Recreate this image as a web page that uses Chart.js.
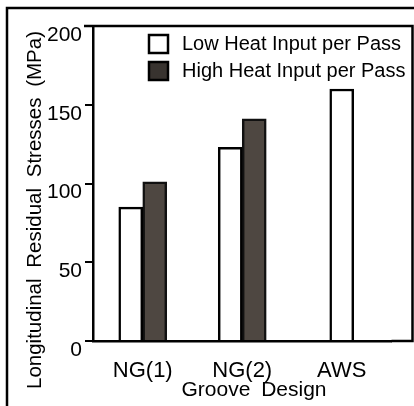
<!DOCTYPE html>
<html>
<head>
<meta charset="utf-8">
<script src="https://cdn.jsdelivr.net/npm/chart.js@4.4.0/dist/chart.umd.min.js"></script>
<style>
html, body { margin: 0; padding: 0; background: #fff; }
#wrap { width: 414px; height: 406px; }
</style>
</head>
<body>
<div id="wrap"><canvas id="chart" width="414" height="406"></canvas></div>
<script>
// data
var categories = ['NG(1)', 'NG(2)', 'AWS'];
var lowHeat = [85, 123, 160];
var highHeat = [101, 141, null];
var seriesNames = ['Low Heat Input per Pass', 'High Heat Input per Pass'];
var yTicks = [0, 50, 100, 150, 200];
var xTitle = 'Groove Design';
var yTitle = 'Longitudinal Residual Stresses (MPa)';

var ink = '#000';
var darkFill = '#4e4741';
var fontFamily = '"Liberation Sans", Arial, sans-serif';

//frame lines, legend and axis titles
var decorPlugin = {
	id: 'decor',
	afterDraw: function (chart) {
		var ctx = chart.ctx;
		var a = chart.chartArea;
		var w = chart.width, h = chart.height;
		ctx.save();
		ctx.strokeStyle = ink;
		ctx.lineWidth = 2.5;

		// outer frame
		ctx.beginPath();
		ctx.moveTo(7, h);
		ctx.lineTo(7, 8);
		ctx.lineTo(w, 8);
		ctx.stroke();

		// inner box
		ctx.beginPath();
		ctx.moveTo(a.left - 9, a.top);
		ctx.lineTo(w - 1.5, a.top);
		ctx.lineTo(w - 1.5, a.bottom);
		ctx.lineTo(a.right, a.bottom);
		ctx.stroke();

		// legend
		var ds = chart.data.datasets;
		ctx.font = '20px ' + fontFamily;
		ctx.textBaseline = 'middle';
		ctx.textAlign = 'left';
		for (var i = 0; i < ds.length; i++) {
			var by = 35 + i * 27;
			ctx.fillStyle = i == 0 ? '#fff' : '#38332f';
			ctx.fillRect(149, by, 19, 18);
			ctx.strokeRect(149, by, 19, 18);
			ctx.fillStyle = ink;
			ctx.fillText(ds[i].label, 182, by + 9);
		}

		// x title
		ctx.font = '21px ' + fontFamily;
		if ('wordSpacing' in ctx) ctx.wordSpacing = '5px';
		ctx.textAlign = 'center';
		ctx.fillText(xTitle, 254, 390);

		// y title
		ctx.font = '20.5px ' + fontFamily;
		if ('wordSpacing' in ctx) ctx.wordSpacing = '5px';
		ctx.translate(35, 210);
		ctx.rotate(-Math.PI / 2);
		ctx.fillText(yTitle, 0, 0);
		ctx.restore();
	}
};

var chart = new Chart(document.getElementById('chart'), {
	type: 'bar',
	data: {
		labels: categories,
		datasets: [{
			label: seriesNames[0],
			data: lowHeat,
			backgroundColor: '#fff',
			borderColor: ink,
			borderWidth: 2.5,
			barThickness: 24,
			skipNull: true
		}, {
			label: seriesNames[1],
			data: highHeat,
			backgroundColor: darkFill,
			borderColor: '#111',
			borderWidth: 2.5,
			barThickness: 24,
			skipNull: true
		}]
	},
	options: {
		responsive: false,
		animation: false,
		devicePixelRatio: 1,
		layout: {
			padding: { top: 26, right: 22.5, left: 0, bottom: 0 }
		},
		plugins: {
			legend: { display: false },
			tooltip: { enabled: false }
		},
		scales: {
			x: {
				grid: { display: false },
				border: { color: ink, width: 2.5 },
				ticks: {
					color: ink,
					padding: 9,
					font: { family: fontFamily, size: 22 }
				},
				afterFit: function (scale) { scale.height = 65; }
			},
			y: {
				min: 0,
				max: 200,
				afterBuildTicks: function (scale) {
					scale.ticks = yTicks.map(function (v) { return { value: v }; });
				},
				grid: {
					drawOnChartArea: false,
					drawTicks: true,
					tickLength: 8,
					color: ink,
					lineWidth: 2
				},
				border: { color: ink, width: 2.5 },
				ticks: {
					color: ink,
					padding: 3,
					labelOffset: 9,
					font: { family: fontFamily, size: 21 }
				},
				afterFit: function (scale) { scale.width = 93; }
			}
		}
	},
	plugins: [decorPlugin]
});
</script>
</body>
</html>
